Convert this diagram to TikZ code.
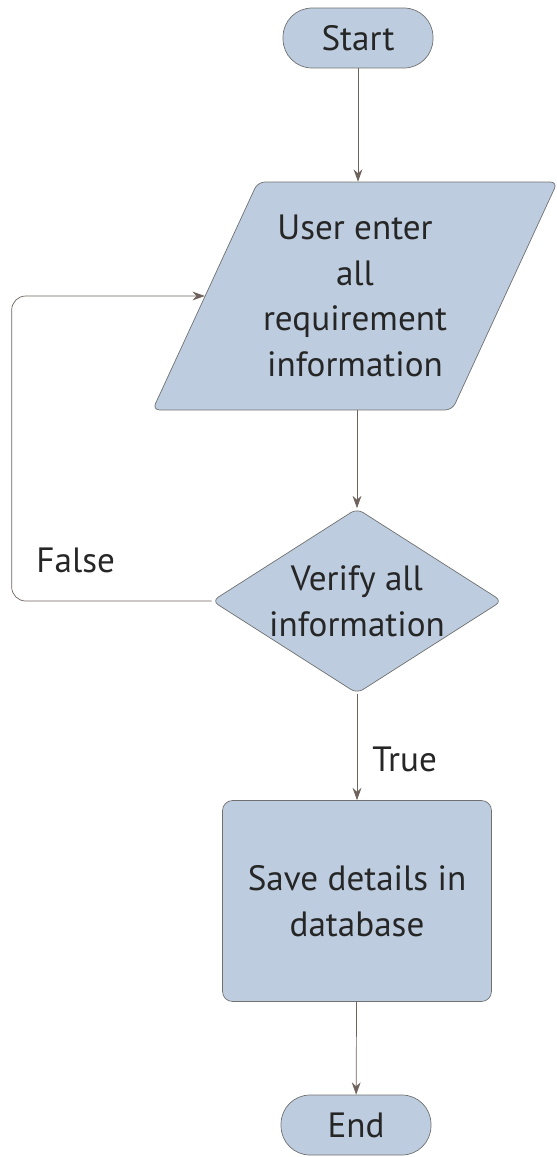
\documentclass[tikz,border=0pt]{standalone}
\usepackage{fontspec}
\setmainfont{PT Sans}
\usepackage{tikz}
\usetikzlibrary{positioning, arrows.meta, shapes.geometric}

\definecolor{boxfill}{HTML}{BDCDDF}
\definecolor{boxline}{HTML}{707070}
\definecolor{flowline}{HTML}{6E625C}

\tikzset{
    every node/.style={font=\fontsize{20}{26}\selectfont, text=black!85},
    terminal/.style={draw=boxline, fill=boxfill, rectangle, rounded corners=0.58cm,
        minimum width=3.0cm, minimum height=1.2cm, inner sep=0pt},
    io/.style={draw=boxline, fill=boxfill, trapezium, trapezium left angle=57,
        trapezium right angle=123, trapezium stretches body, rounded corners=4pt,
        minimum width=8.1cm, minimum height=4.56cm, align=center, inner sep=0pt},
    decision/.style={draw=boxline, fill=boxfill, diamond, rounded corners=4pt,
        minimum width=5.8cm, minimum height=3.7cm, align=center, inner sep=-9pt},
    process/.style={draw=boxline, fill=boxfill, rectangle, rounded corners=0.2cm,
        minimum width=5.38cm, minimum height=4.02cm, align=center},
    flow/.style={draw=flowline, -{Stealth[length=7pt, width=5pt]}},
    lbl/.style={inner sep=0pt}
}

\begin{document}
\begin{tikzpicture}[x=0.02cm, y=-0.02cm]
    \useasboundingbox (0,0) rectangle (557,1157);

    % the steps, top to bottom (coordinates in pixels of the original)
    \node[terminal] (start) at (358, 38) {Start};
    \node[io] (input) at (355, 296) {User enter\\all\\requirement\\information};
    \node[decision] (verify) at (357, 601) {Verify all\\information};
    \node[process] (save) at (357, 901) {Save details in\\database};
    \node[terminal] (end) at (356, 1125) {End};

    % straight connectors
    \draw[flow] (start) -- (start |- input.north);
    \draw[flow] (input.south -| verify) -- (verify);
    \draw[flow] (verify) -- (save)
        node[lbl, pos=0.62, right=0.3cm] {True};
    \draw[flow] (save) -- (end);

    % loop back when the check fails
    \draw[flow, rounded corners=8pt] (verify.west) -- ++(-200, 0)
        node[lbl, pos=0.68, above=0.56cm] {False}
        |- (input.west);

\end{tikzpicture}
\end{document}
